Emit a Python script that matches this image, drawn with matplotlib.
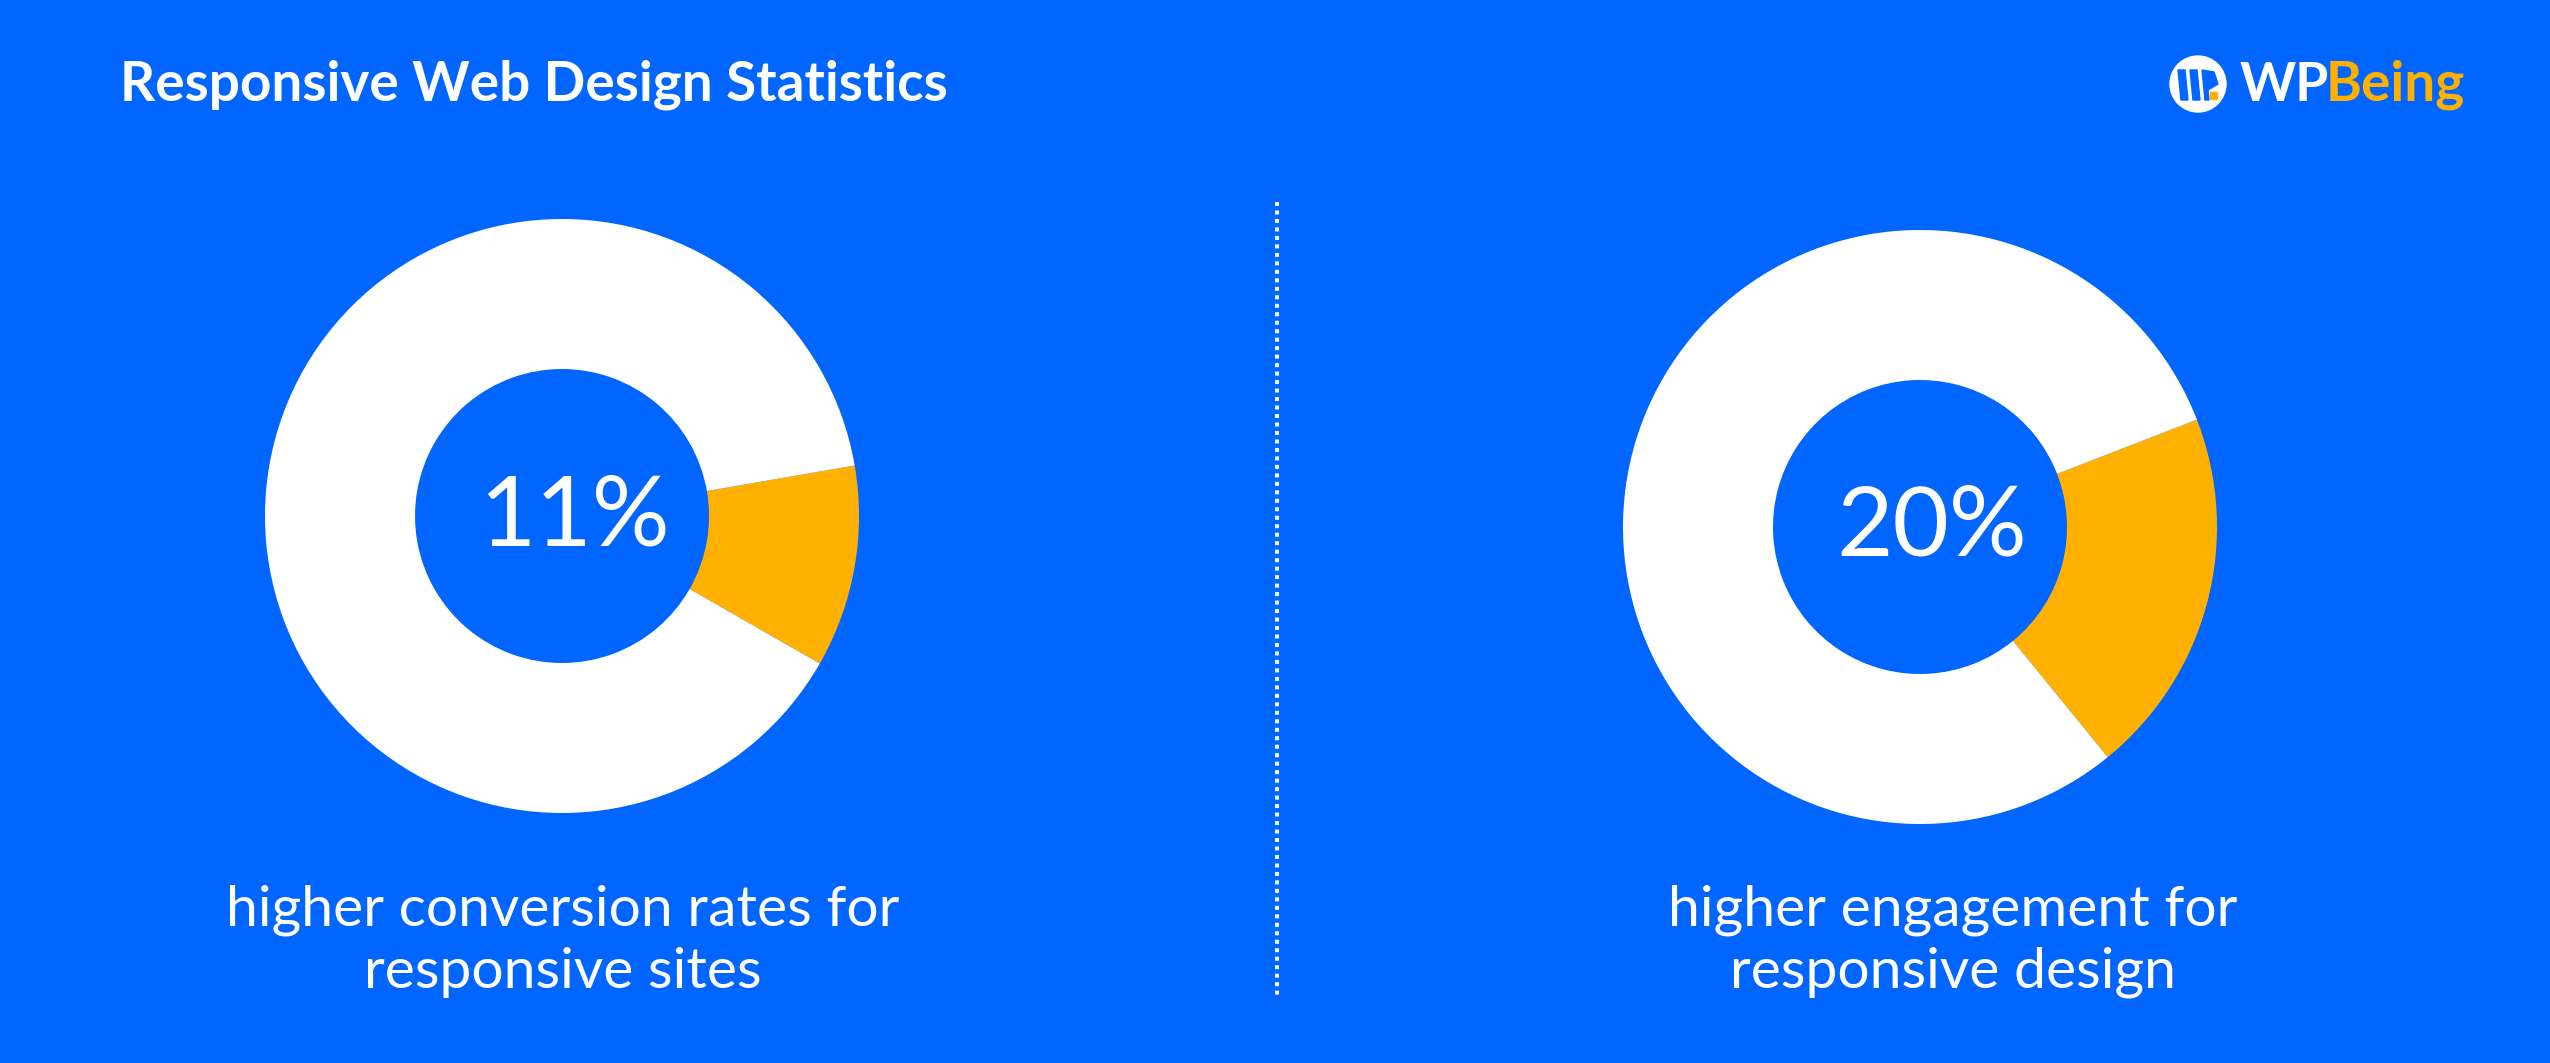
import matplotlib
matplotlib.use("Agg")
from matplotlib import pyplot as plt
from matplotlib.patches import Circle, Polygon

BLUE = '#0066FF'
YELLOW = '#FFB000'
WHITE = '#FFFFFF'

title = 'Responsive Web Design Statistics'
shares = [11, 20]  # percent
labels = ['11%', '20%']
captions = [['higher conversion rates for', 'responsive sites'],
            ['higher engagement for', 'responsive design']]

W, H = 2550, 1063


def Y(y):
    # pixel row (from top) -> data y
    return H - y


def main():
    fig = plt.figure(figsize=(W / 100, H / 100), dpi=100, facecolor=BLUE)
    ax = fig.add_axes([0, 0, 1, 1])
    ax.set_facecolor(BLUE)

    centers = [(562, 516), (1920, 527)]
    starts = [9.8, 21.2]
    text_x = [563, 1953]
    for (cx, cy), share, start, lab, cap, tx in zip(centers, shares, starts, labels, captions, text_x):
        ax.pie([share, 100 - share], colors=[YELLOW, WHITE], startangle=start,
               counterclock=False, center=(cx, Y(cy)), radius=297,
               wedgeprops=dict(width=150, edgecolor='none', linewidth=0))
        ax.text(cx + 12, Y(cy + 2), lab, color=WHITE, fontsize=70, family='Lato',
                ha='center', va='center')
        # caption, one text per line
        for line, base in zip(cap, (925, 988)):
            ax.text(tx, Y(base), line, color=WHITE, fontsize=41, family='Lato',
                    ha='center', va='baseline')

    # dotted divider
    ax.plot([1277, 1277], [Y(202), Y(995)], color=WHITE, lw=2.88,
            dashes=(1, 1.12), dash_capstyle='butt')

    ax.text(120, Y(100), title, color=WHITE, fontsize=39.5, family='Lato',
            fontweight='bold', ha='left', va='baseline')

    # logo
    ax.add_patch(Circle((2198, Y(84)), 28, color=WHITE))
    for x0 in (2178, 2190):
        ax.add_patch(Polygon([(x0, Y(70)), (x0 + 7, Y(70)), (x0 + 10, Y(100)), (x0 + 3, Y(100))],
                             color=BLUE))
    ax.add_patch(Polygon([(2202, Y(70)), (2214, Y(72)), (2218, Y(84)), (2208, Y(90)),
                          (2209, Y(100)), (2205, Y(100))], color=BLUE))
    ax.add_patch(Polygon([(2210, Y(92)), (2217, Y(92)), (2217, Y(99)), (2210, Y(99))], color=YELLOW))
    ax.text(2240, Y(101), 'WP', color=WHITE, fontsize=38.5, family='Lato',
            fontweight='bold', ha='left', va='baseline')
    ax.text(2326, Y(101), 'Being', color=YELLOW, fontsize=39.5, family='Lato',
            fontweight='bold', ha='left', va='baseline')

    ax.set_xlim(0, W)
    ax.set_ylim(0, H)
    ax.set_aspect('equal')
    ax.axis('off')
    fig.savefig('out.png', dpi=100, facecolor=BLUE)


if __name__ == '__main__':
    main()
